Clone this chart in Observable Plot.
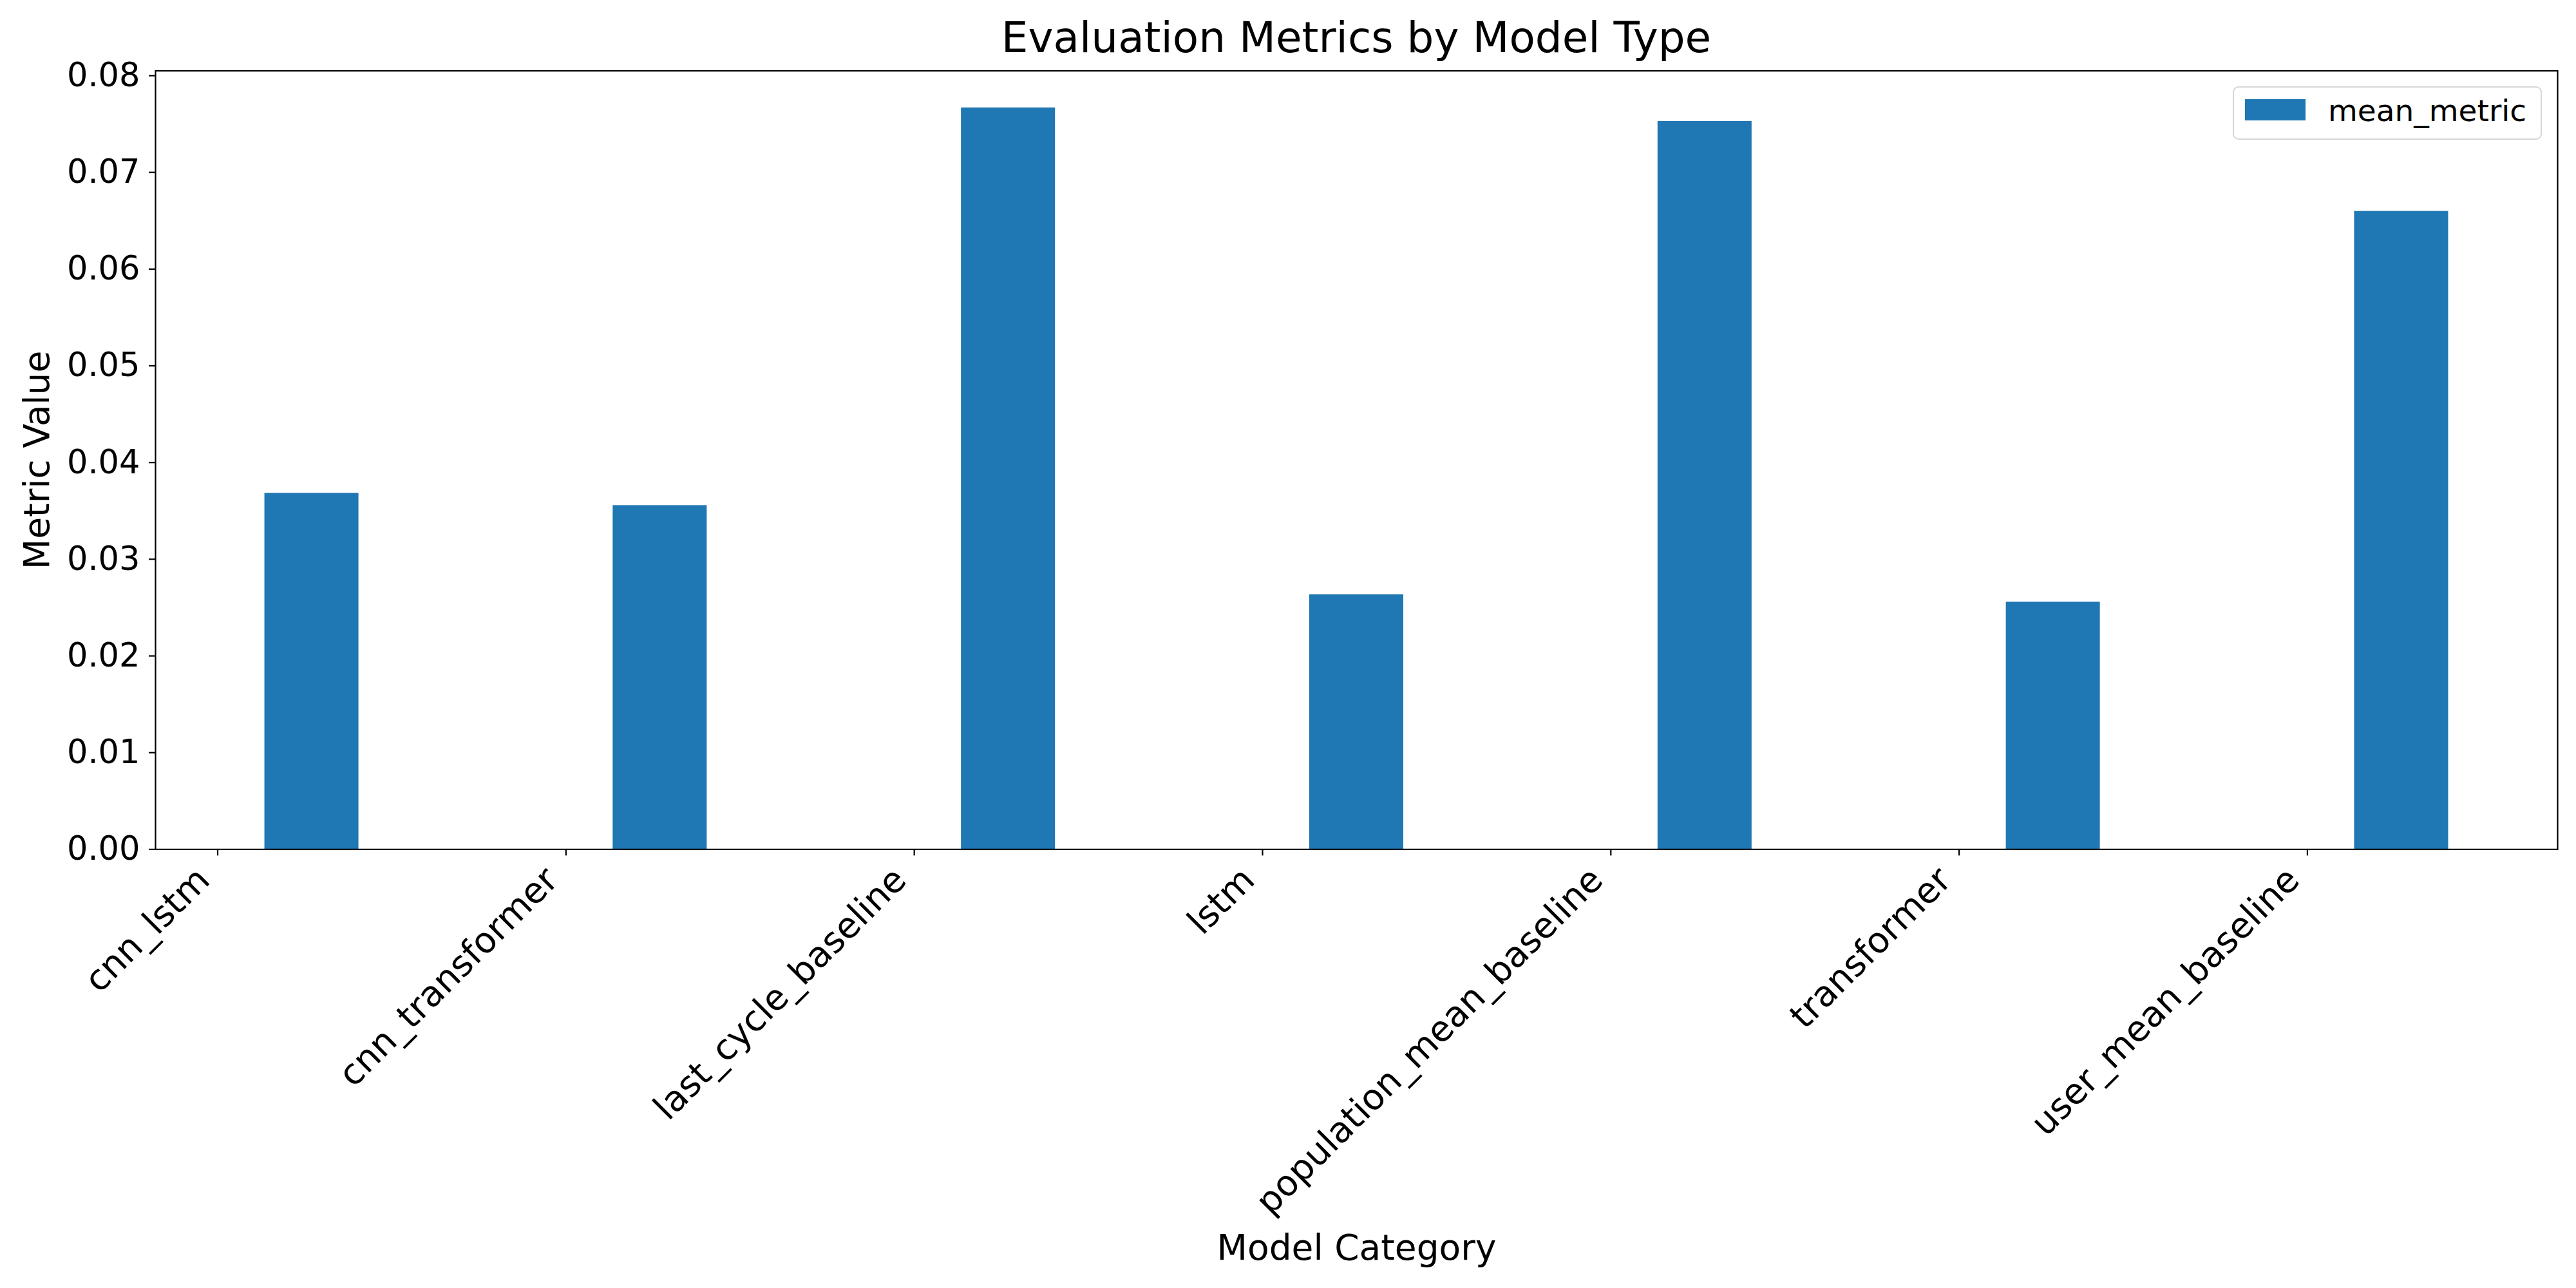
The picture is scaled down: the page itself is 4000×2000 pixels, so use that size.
<!DOCTYPE html>
<html>
<head>
<meta charset="utf-8">
<script src="https://cdn.jsdelivr.net/npm/d3@7"></script>
<script src="https://cdn.jsdelivr.net/npm/@observablehq/plot@0.6"></script>
<style>
  html, body { margin: 0; padding: 0; background: #ffffff; }
  #wrap { position: relative; width: 4000px; height: 2000px; font-family: "DejaVu Sans", sans-serif; color: #000; }
  #title { box-sizing: border-box; height: 100px; padding: 25.7px 29px 0 241px; line-height: 66px; font-size: 66px; text-align: center; white-space: nowrap; }
  #legend { position: absolute; left: 3467px; top: 133.7px; width: 479.5px; height: 83.8px; box-sizing: border-box; border: 2.2px solid #d6d6d6; border-radius: 9px; background: rgba(255,255,255,0.8); }
  #legend .sw { position: absolute; left: 16.8px; top: 18.1px; width: 94px; height: 33px; background: #1f77b4; }
  #legend .lb { position: absolute; left: 146px; top: 12px; font-size: 47px; line-height: 47px; white-space: nowrap; }
  svg { display: block; }
</style>
</head>
<body>
<div id="wrap">
  <div id="title">Evaluation Metrics by Model Type</div>
  <div id="chart"></div>
  <div id="legend"><div class="sw"></div><div class="lb">mean_metric</div></div>
</div>
<script>
// ---- data ----
const categories = ["cnn_lstm", "cnn_transformer", "last_cycle_baseline", "lstm", "population_mean_baseline", "transformer", "user_mean_baseline"];
const meanMetric = [0.03683, 0.03556, 0.07668, 0.02634, 0.07528, 0.02557, 0.06598];
const yTicks = [0, 0.01, 0.02, 0.03, 0.04, 0.05, 0.06, 0.07, 0.08];
const seriesName = "mean_metric";
const xLabel = "Model Category";
const yLabel = "Metric Value";

// ---- layout / style ----
const barColor = "#1f77b4";
const barOffset = 0.27;   // bar centre offset from category tick (grouped-bar slot)
const barWidth = 0.27;
const fontFamily = "DejaVu Sans";

const rows = categories.map((c, i) => ({category: c, index: i, value: meanMetric[i]}));
const idx = categories.map((c, i) => i);

const chart = Plot.plot({
  width: 4000,
  height: 1900,
  marginTop: 9.5,
  marginBottom: 681.6,
  marginLeft: 241,
  marginRight: 29,
  style: {fontFamily, fontSize: "51px", background: "white", color: "black", overflow: "visible"},
  x: {type: "linear", domain: [-0.1785, categories.length - 1 + 0.7185], axis: null},
  y: {domain: [0, 0.0805], axis: null},
  marks: [
    Plot.rectY(rows, {
      x1: d => d.index + barOffset - barWidth / 2,
      x2: d => d.index + barOffset + barWidth / 2,
      y: "value",
      fill: barColor
    }),
    Plot.axisY({ticks: yTicks, tickFormat: d3.format(".2f"), tickSize: 10, tickPadding: 14, fontSize: 51, strokeWidth: 2.2, label: null}),
    Plot.axisX({ticks: idx, tickFormat: () => "", tickSize: 10, strokeWidth: 2.2, label: null}),
    Plot.text(idx, {
      x: d => d, text: d => categories[d],
      frameAnchor: "bottom", rotate: -45, textAnchor: "end", lineAnchor: "top",
      dx: -37, dy: 23, fontSize: 55, fill: "black"
    }),
    Plot.text([xLabel], {frameAnchor: "bottom", dy: 636.6, textAnchor: "middle", lineAnchor: "bottom", fontSize: 55, fill: "black"}),
    Plot.text([yLabel], {frameAnchor: "left", dx: -165.5, rotate: -90, textAnchor: "middle", lineAnchor: "bottom", fontSize: 55, fill: "black"}),
    Plot.frame({stroke: "black", strokeWidth: 2.2})
  ]
});
document.getElementById("chart").appendChild(chart);
</script>
</body>
</html>
